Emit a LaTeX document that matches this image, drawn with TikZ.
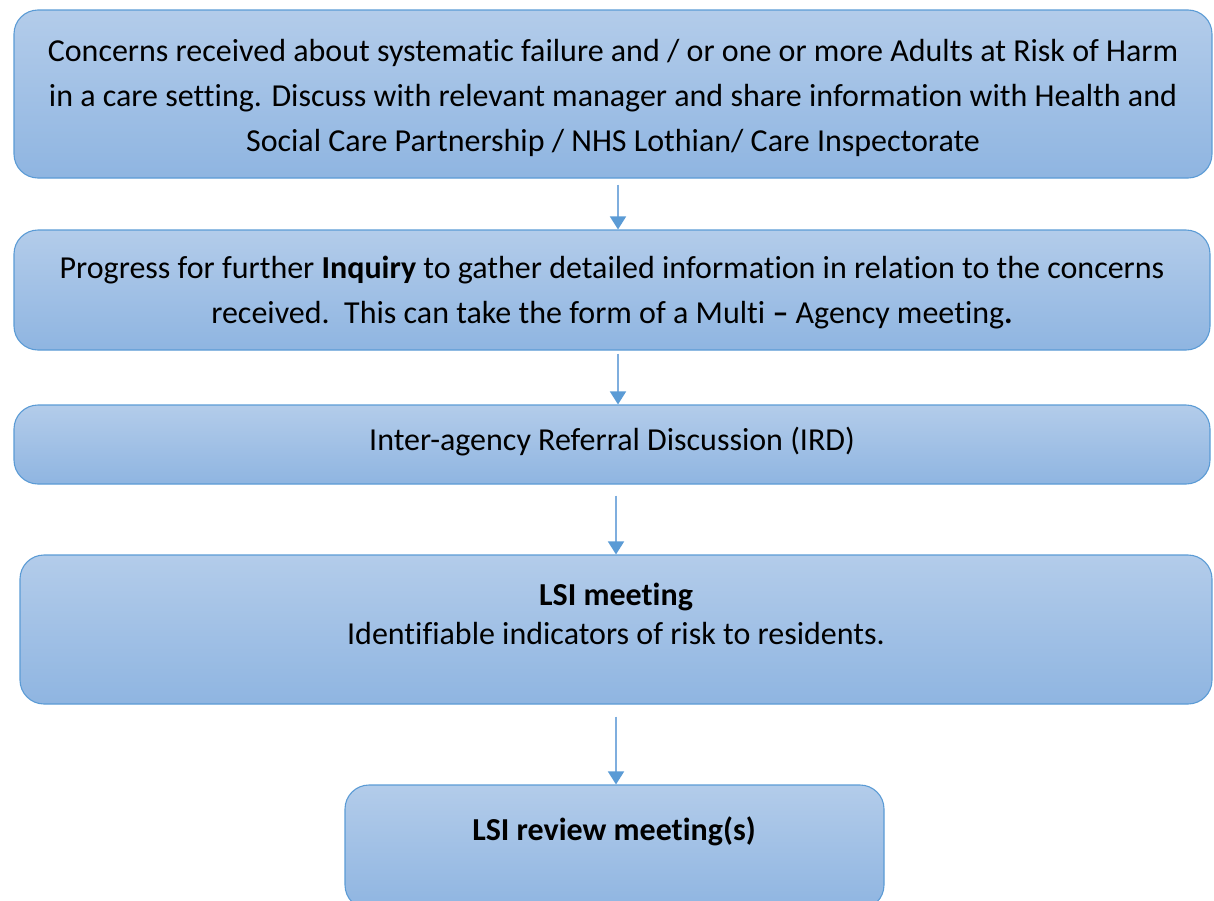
\documentclass[tikz,border=0pt]{standalone}
\usepackage{fontspec}
\setmainfont{Carlito}[RawFeature=-liga]
\usetikzlibrary{arrows.meta}
\definecolor{bordc}{HTML}{5B9BD5}
\definecolor{topc}{HTML}{B3CCEA}
\definecolor{botc}{HTML}{8FB5E1}
\definecolor{linec}{HTML}{7FAEDE}
\tikzset{
  flowbox/.style={draw=bordc, line width=1.1pt, rounded corners=24pt, top color=topc, bottom color=botc, inner sep=0pt},
  txt/.style={align=center, font=\fontsize{32}{45}\selectfont, inner sep=0pt, text=black},
  arr/.style={draw=linec, line width=1.6pt, -{Triangle[width=16pt,length=13pt,color=bordc]}}
}
\begin{document}
\begin{tikzpicture}[x=1pt,y=-1pt]
\useasboundingbox (0,0) rectangle (1214,900);
\node[flowbox, minimum width=1198pt, minimum height=168pt] (b1) at (613,94) {};
\node[flowbox, minimum width=1196pt, minimum height=120pt] (b2) at (612,290) {};
\node[flowbox, minimum width=1196pt, minimum height=79pt] (b3) at (612,444.5) {};
\node[flowbox, minimum width=1192pt, minimum height=149pt] (b4) at (616,629.5) {};
\node[flowbox, minimum width=539pt, minimum height=124pt] (b5) at (614.5,847) {};

\node[txt] (t1) at (613,98) {Concerns received about systematic failure and / or one or more Adults at Risk of Harm\\in a care setting. Discuss with relevant manager and share information with Health and\\Social Care Partnership / NHS Lothian/ Care Inspectorate};
\node[txt] (t2) at (612,293) {Progress for further \textbf{Inquiry} to gather detailed information in relation to the concerns\\received.\ \ This can take the form of a Multi \textbf{--} Agency meeting\textbf{.}};
\node[txt] (t3) at (612,442) {Inter-agency Referral Discussion (IRD)};
\node[txt, font=\fontsize{32}{39}\selectfont] (t4) at (616,613.5) {\textbf{LSI meeting}\\Identifiable indicators of risk to residents.};
\node[txt] (t5) at (614,831) {\textbf{LSI review meeting(s)}};

\draw[arr] (b1.south -| 618,0) ++(0,6) -- (b2.north -| 618,0);
\draw[arr] (b2.south -| 618,0) ++(0,3) -- (b3.north -| 618,0);
\draw[arr] (b3.south -| 616,0) ++(0,11) -- (b4.north -| 616,0);
\draw[arr] (b4.south -| 616,0) ++(0,12) -- (b5.north -| 616,0);
\end{tikzpicture}
\end{document}
